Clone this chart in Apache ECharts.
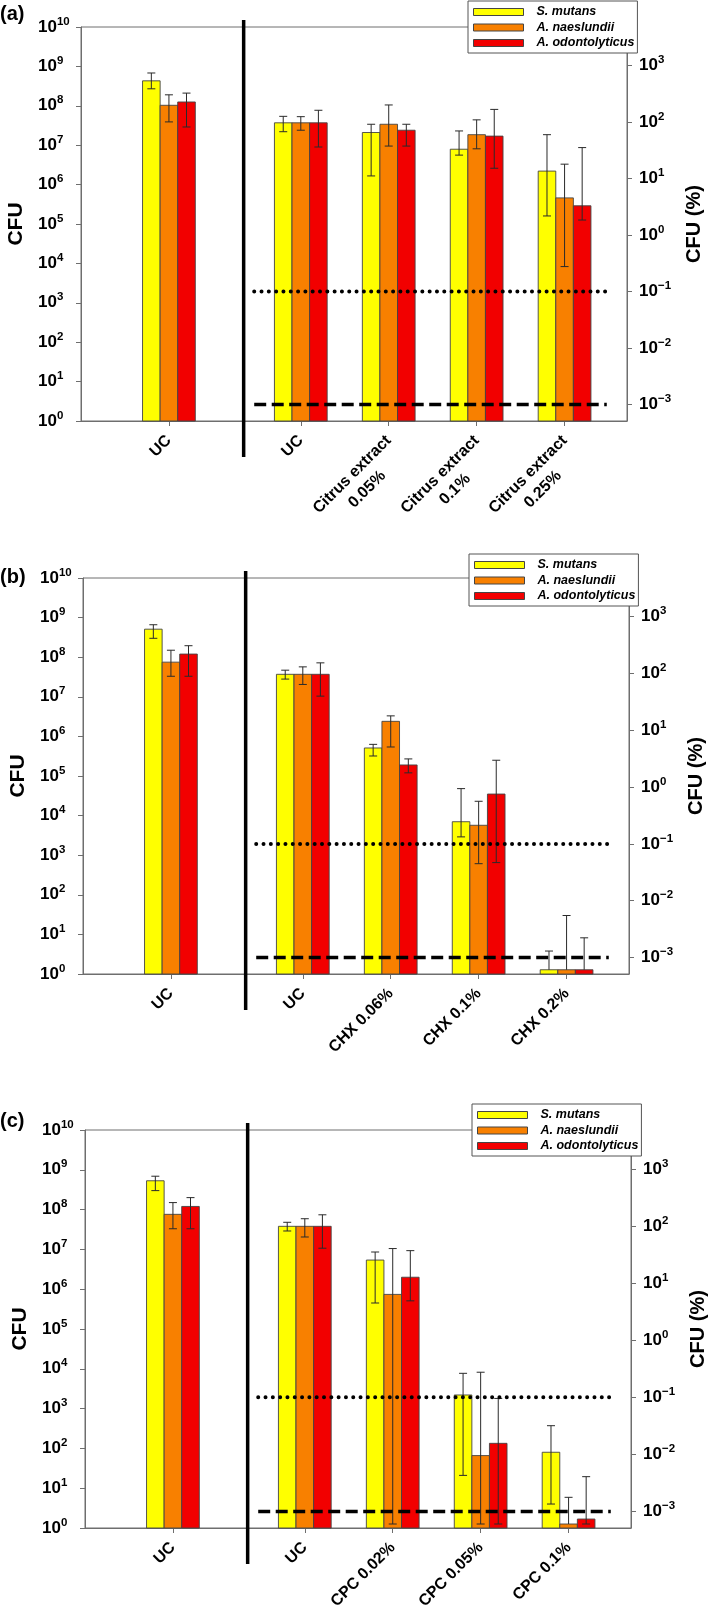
<!DOCTYPE html>
<html>
<head>
<meta charset="utf-8">
<script src="https://cdn.jsdelivr.net/npm/echarts@6/dist/echarts.min.js"></script>
<style>
html,body{margin:0;padding:0;background:#fff;}
#chart{width:709px;height:1619px;}
</style>
</head>
<body>
<div id="chart"></div>
<script>
// ================= DATA =================
const species = ['S. mutans', 'A. naeslundii', 'A. odontolyticus'];
const panelLabels = ['(a)', '(b)', '(c)'];
const leftTickExp = [0, 1, 2, 3, 4, 5, 6, 7, 8, 9, 10];     // CFU = 10^n
const rightTickExp = [-3, -2, -1, 0, 1, 2, 3];               // CFU (%) = 10^n
const thresholdDotted = 0.1;    // CFU (%)
const thresholdDashed = 0.001;  // CFU (%)

// Panel (a) – citrus extract
const catsA = ['UC', 'UC', 'Citrus extract\n0.05%', 'Citrus extract\n0.1%', 'Citrus extract\n0.25%'];
const aMut   = [4.3e8, 3.7e7, 2.1e7, 7.9e6, 2.2e6];
const aMutLo = [2.7e8, 2.2e7, 1.66e6, 5.6e6, 1.6e5];
const aMutHi = [6.8e8, 5.4e7, 3.4e7, 2.3e7, 1.85e7];
const aNae   = [1.03e8, 3.7e7, 3.4e7, 1.85e7, 4.6e5];
const aNaeLo = [3.9e7, 2.4e7, 9.5e6, 8.1e6, 8.3e3];
const aNaeHi = [1.9e8, 5.3e7, 1.05e8, 4.4e7, 3.3e6];
const aOdo   = [1.25e8, 3.7e7, 2.4e7, 1.7e7, 2.9e5];
const aOdoLo = [2.9e7, 9.0e6, 9.5e6, 2.6e6, 1.26e5];
const aOdoHi = [2.1e8, 7.7e7, 3.4e7, 8.1e7, 8.7e6];

// Panel (b) – CHX
const catsB = ['UC', 'UC', 'CHX 0.06%', 'CHX 0.1%', 'CHX 0.2%'];
const bMut   = [5.1e8, 3.7e7, 5.1e5, 7.0e3, 1.28];
const bMutLo = [3.0e8, 2.8e7, 3.2e5, 2.9e3, null];
const bMutHi = [6.6e8, 4.7e7, 6.3e5, 4.8e4, 3.8];
const bNae   = [7.5e7, 3.7e7, 2.4e6, 5.7e3, 1.28];
const bNaeLo = [3.3e7, 2.05e7, 5.4e5, 6.1e2, null];
const bNaeHi = [1.5e8, 5.7e7, 3.3e6, 2.3e4, 30];
const bOdo   = [1.2e8, 3.7e7, 1.9e5, 3.5e4, 1.28];
const bOdoLo = [3.3e7, 1.04e7, 1.2e5, 6.5e2, null];
const bOdoHi = [1.95e8, 7.2e7, 2.7e5, 2.5e5, 8.2];

// Panel (c) – CPC
const catsC = ['UC', 'UC', 'CPC 0.02%', 'CPC 0.05%', 'CPC 0.1%'];
const cMut   = [5.3e8, 3.8e7, 5.4e6, 2.2e3, 80];
const cMutLo = [3.0e8, 2.9e7, 4.5e5, 21, 4.0];
const cMutHi = [6.9e8, 4.8e7, 8.6e6, 7.7e3, 372];
const cNae   = [7.6e7, 3.8e7, 7.4e5, 66, 1.26];
const cNaeLo = [3.3e7, 2.05e7, 1.26, 1.26, null];
const cNaeHi = [1.5e8, 5.9e7, 1.05e7, 8.2e3, 5.9];
const cOdo   = [1.2e8, 3.8e7, 2.0e6, 134, 1.68];
const cOdoLo = [3.3e7, 1.07e7, 5.1e5, 1.26, 1.26];
const cOdoHi = [2.0e8, 7.4e7, 9.3e6, 1.8e3, 19.5];

// ================= LAYOUT / STYLE =================
const slotPos = [1, 2.5, 3.5, 4.5, 5.5];   // x-positions of the category groups
const xMax = 6.21;
const dividerPos = 1.85;
const refSpan = [1.97, 5.98];
const barW = 0.2;
const grids = [
  {left: 81, top: 27, width: 546, height: 394},
  {left: 83, top: 578, width: 546, height: 396},
  {left: 85, top: 1130, width: 546, height: 398}
];
const legendPos = [{left: 468, top: 1}, {left: 469, top: 554}, {left: 472, top: 1104}];
const titleTops = [4, 567, 1111];
const colors = ['#ffff00', '#f88000', '#f20000'];
const axisGray = '#6e6e6e';
const FONT = 'Liberation Sans, Arial, sans-serif';
const XFONT_SIZE = 16;
const X_LINE_GAP = 21;

const panels = [
  {cats: catsA, sets: [[aMut, aMutLo, aMutHi], [aNae, aNaeLo, aNaeHi], [aOdo, aOdoLo, aOdoHi]]},
  {cats: catsB, sets: [[bMut, bMutLo, bMutHi], [bNae, bNaeLo, bNaeHi], [bOdo, bOdoLo, bOdoHi]]},
  {cats: catsC, sets: [[cMut, cMutLo, cMutHi], [cNae, cNaeLo, cNaeHi], [cOdo, cOdoLo, cOdoHi]]}
];

const measureCtx = document.createElement('canvas').getContext('2d');
function textWidth(t) {
  measureCtx.font = 'bold ' + XFONT_SIZE + 'px ' + FONT;
  return measureCtx.measureText(t).width;
}

const L10 = v => (v == null ? null : Math.log10(v));
const supLabel = e => {
  const n = Math.round(e);
  return '{b|10}{s|' + (n < 0 ? '\u2212' + (-n) : n) + '}';
};
const richY = {
  b: {fontSize: 17, fontWeight: 'bold', color: '#000', lineHeight: 23, fontFamily: FONT},
  s: {fontSize: 11.5, fontWeight: 'bold', color: '#000', verticalAlign: 'top', lineHeight: 12, fontFamily: FONT}
};

const option = {
  animation: false,
  backgroundColor: '#fff',
  textStyle: {fontFamily: FONT},
  title: [], legend: [], grid: [], xAxis: [], yAxis: [], series: []
};

panels.forEach((p, i) => {
  option.grid.push(Object.assign({}, grids[i], {
    show: true, borderColor: axisGray, borderWidth: 1, backgroundColor: 'transparent',
    containLabel: false, outerBoundsMode: 'none'
  }));
  option.title.push({
    text: panelLabels[i], left: 0, top: titleTops[i], padding: 0,
    textStyle: {fontSize: 20, fontWeight: 'bold', color: '#000', fontFamily: FONT}
  });
  option.legend.push(Object.assign({}, legendPos[i], {
    orient: 'vertical', data: species, icon: 'rect', selectedMode: false,
    itemWidth: 50, itemHeight: 7, itemGap: 1.5, padding: [4, 3, 3, 5],
    backgroundColor: '#fff', borderColor: '#555', borderWidth: 1, borderRadius: 0,
    itemStyle: {borderColor: '#444', borderWidth: 1},
    textStyle: {fontSize: 12.5, fontWeight: 'bold', fontStyle: 'italic', color: '#000',
      lineHeight: 14, padding: [0, 0, 0, 8], fontFamily: FONT}
  }));
  option.xAxis.push({
    type: 'value', gridIndex: i, min: 0, max: xMax,
    axisLine: {show: true, lineStyle: {color: axisGray, width: 1}},
    splitLine: {show: false},
    axisTick: {show: true, customValues: slotPos, length: 5, lineStyle: {color: axisGray}},
    axisLabel: {show: false}
  });
  option.yAxis.push({
    type: 'value', gridIndex: i, position: 'left', min: 0, max: 10, interval: 1,
    name: 'CFU', nameLocation: 'middle', nameGap: 50,
    nameTextStyle: {fontSize: 21, fontWeight: 'bold', color: '#000', fontFamily: FONT},
    axisLine: {show: true, lineStyle: {color: axisGray, width: 1}},
    axisTick: {show: true, customValues: leftTickExp, length: 5, lineStyle: {color: axisGray}},
    splitLine: {show: false},
    axisLabel: {customValues: leftTickExp, align: 'left', margin: 43, formatter: supLabel, rich: richY}
  });
  option.yAxis.push({
    type: 'value', gridIndex: i, position: 'right', min: -3.29, max: 3.68,
    name: 'CFU (%)', nameLocation: 'middle', nameGap: 57,
    nameTextStyle: {fontSize: 20, fontWeight: 'bold', color: '#000', fontFamily: FONT},
    axisLine: {show: true, lineStyle: {color: axisGray, width: 1}},
    axisTick: {show: true, customValues: rightTickExp, length: 5, lineStyle: {color: axisGray}},
    splitLine: {show: false},
    axisLabel: {customValues: rightTickExp, align: 'left', margin: 12, formatter: supLabel, rich: richY}
  });

  // bars + error bars
  species.forEach((name, s) => {
    const [vals, lo, hi] = p.sets[s];
    option.series.push({
      type: 'custom', name: name, xAxisIndex: i, yAxisIndex: 2 * i,
      itemStyle: {color: colors[s], borderColor: '#444', borderWidth: 1},
      encode: {x: 0, y: 1},
      data: slotPos.map((x, k) => [x, L10(vals[k]), L10(lo[k]), L10(hi[k])]),
      z: 3,
      renderItem: (params, api) => {
        const x = api.value(0), y = api.value(1), ylo = api.value(2), yhi = api.value(3);
        const cx = x + (s - 1) * barW;
        const tl = api.coord([cx - barW / 2, y]);
        const br = api.coord([cx + barW / 2, 0]);
        const children = [{
          type: 'rect',
          shape: {x: tl[0], y: tl[1], width: br[0] - tl[0], height: br[1] - tl[1]},
          style: {fill: colors[s], stroke: '#444', lineWidth: 0.9}
        }];
        const px = api.coord([cx, y])[0];
        const eStyle = {stroke: '#2a2a2a', lineWidth: 1};
        if (yhi !== null && !isNaN(yhi)) {
          const top = api.coord([cx, yhi])[1];
          const noLo = (ylo === null || isNaN(ylo));
          const bot = api.coord([cx, noLo ? y : ylo])[1];
          children.push({type: 'line', shape: {x1: px, y1: top, x2: px, y2: bot}, style: eStyle});
          children.push({type: 'line', shape: {x1: px - 4, y1: top, x2: px + 4, y2: top}, style: eStyle});
          if (!noLo) {
            children.push({type: 'line', shape: {x1: px - 4, y1: bot, x2: px + 4, y2: bot}, style: eStyle});
          }
        }
        return {type: 'group', children: children};
      }
    });
  });

  // category labels under the x axis (rotated 45°)
  option.series.push({
    type: 'custom', xAxisIndex: i, yAxisIndex: 2 * i, silent: true, clip: false, z: 6,
    encode: {x: 0, y: 1},
    data: slotPos.map(x => [x, 0]),
    renderItem: (params, api) => {
      const pt = api.coord([api.value(0), 0]);
      const lines = p.cats[params.dataIndex].split('\n');
      const w1 = textWidth(lines[0]);
      const kids = lines.map((t, j) => ({
        type: 'text',
        x: j === 0 ? 0 : -w1 / 2,
        y: j * X_LINE_GAP,
        style: {
          text: t, fill: '#000',
          font: 'bold ' + XFONT_SIZE + 'px ' + FONT,
          align: j === 0 ? 'right' : 'center', verticalAlign: 'middle'
        }
      }));
      return {
        type: 'group', x: pt[0], y: pt[1] + 17, rotation: Math.PI / 4,
        children: kids
      };
    }
  });

  // reference lines (right axis, CFU %)
  option.series.push({
    type: 'line', xAxisIndex: i, yAxisIndex: 2 * i + 1, silent: true, symbol: 'none', z: 5,
    data: [[refSpan[0], L10(thresholdDotted)], [refSpan[1], L10(thresholdDotted)]],
    lineStyle: {color: '#000', width: 4, type: [0.01, 7.3], cap: 'round'}
  });
  option.series.push({
    type: 'line', xAxisIndex: i, yAxisIndex: 2 * i + 1, silent: true, symbol: 'none', z: 5,
    data: [[refSpan[0], L10(thresholdDashed)], [refSpan[1], L10(thresholdDashed)]],
    lineStyle: {color: '#000', width: 3.5, type: [12, 5.5], cap: 'butt'}
  });

  // vertical divider between the two UC groups
  option.series.push({
    type: 'custom', xAxisIndex: i, yAxisIndex: 2 * i, silent: true, clip: false, z: 6,
    encode: {x: 0, y: 1},
    data: [[dividerPos, 0]],
    renderItem: (params, api) => {
      const cs = params.coordSys;
      const px = api.coord([api.value(0), 0])[0];
      return {type: 'line', shape: {x1: px, y1: cs.y - 7, x2: px, y2: cs.y + cs.height + 36},
        style: {stroke: '#000', lineWidth: 3.5}};
    }
  });
});

const chart = echarts.init(document.getElementById('chart'), null, {renderer: 'canvas', width: 709, height: 1619});
chart.setOption(option);
</script>
</body>
</html>
